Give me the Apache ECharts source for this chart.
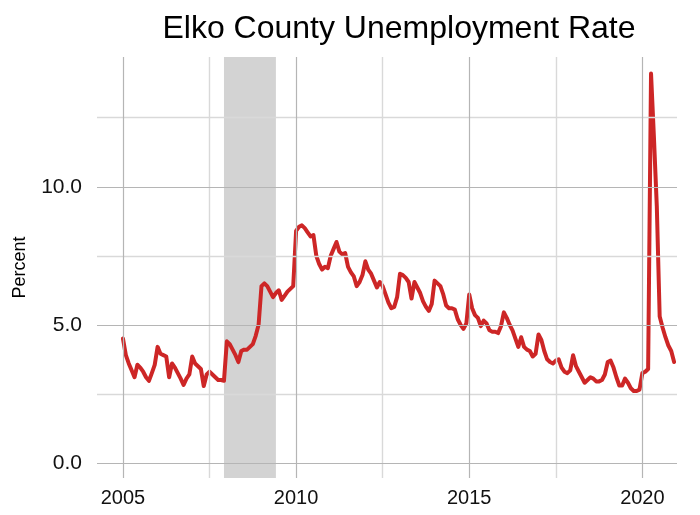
<!DOCTYPE html>
<html>
<head>
<meta charset="utf-8">
<title>Elko County Unemployment Rate</title>
<script src="https://cdn.jsdelivr.net/npm/echarts@6/dist/echarts.min.js"></script>
<style>
  html, body { margin: 0; padding: 0; background: #fff; }
  #chart { width: 700px; height: 515px; }
</style>
</head>
<body>
<div id="chart"></div>
<script>
const WIDTH = 700;
const HEIGHT = 515;

const START_YEAR = 2005;

// monthly unemployment rate, Jan 2005 .. Dec 2020 (one row per year)
const rates2005 = [4.5, 3.9, 3.6, 3.35, 3.1, 3.55, 3.45, 3.3, 3.1, 2.97, 3.25, 3.55];
const rates2006 = [4.2, 3.95, 3.9, 3.85, 3.1, 3.6, 3.45, 3.25, 3.05, 2.82, 3.05, 3.2];
const rates2007 = [3.85, 3.6, 3.5, 3.4, 2.78, 3.2, 3.3, 3.2, 3.1, 3.0, 3.0, 2.97];
const rates2008 = [4.4, 4.3, 4.1, 3.9, 3.65, 4.05, 4.1, 4.1, 4.2, 4.3, 4.6, 5.0];
const rates2009 = [6.4, 6.5, 6.4, 6.2, 6.0, 6.15, 6.25, 5.9, 6.05, 6.2, 6.3, 6.4];
const rates2010 = [8.4, 8.55, 8.6, 8.5, 8.35, 8.2, 8.25, 7.5, 7.2, 7.0, 7.1, 7.05];
const rates2011 = [7.5, 7.75, 8.0, 7.65, 7.55, 7.6, 7.1, 6.9, 6.75, 6.4, 6.55, 6.8];
const rates2012 = [7.3, 7.0, 6.85, 6.6, 6.35, 6.55, 6.4, 6.1, 5.8, 5.6, 5.65, 6.0];
const rates2013 = [6.85, 6.8, 6.7, 6.55, 5.95, 6.55, 6.35, 6.15, 5.85, 5.65, 5.5, 5.75];
const rates2014 = [6.6, 6.5, 6.4, 6.1, 5.7, 5.6, 5.6, 5.55, 5.2, 5.0, 4.85, 5.05];
const rates2015 = [6.1, 5.6, 5.35, 5.25, 4.95, 5.15, 5.05, 4.8, 4.75, 4.75, 4.7, 4.95];
const rates2016 = [5.45, 5.25, 5.0, 4.8, 4.5, 4.2, 4.55, 4.2, 4.1, 4.05, 3.85, 3.95];
const rates2017 = [4.65, 4.45, 4.05, 3.75, 3.65, 3.6, 3.7, 3.75, 3.45, 3.3, 3.25, 3.35];
const rates2018 = [3.9, 3.5, 3.3, 3.1, 2.9, 3.0, 3.1, 3.05, 2.95, 2.95, 3.0, 3.2];
const rates2019 = [3.65, 3.7, 3.45, 3.1, 2.8, 2.8, 3.05, 2.9, 2.7, 2.6, 2.6, 2.65];
const rates2020 = [3.25, 3.3, 3.4, 14.1, 11.8, 9.3, 5.3, 4.9, 4.55, 4.25, 4.05, 3.65];

const yearlyRates = [
  rates2005, rates2006, rates2007, rates2008, rates2009, rates2010, rates2011, rates2012,
  rates2013, rates2014, rates2015, rates2016, rates2017, rates2018, rates2019, rates2020
];

// Great Recession, Dec 2007 .. Jun 2009
const recession = [2007 + 11 / 12, 2009 + 5 / 12];

const xMajorTicks = [2005, 2010, 2015, 2020];
const xMinorTicks = [2007.5, 2012.5, 2017.5];
const yMajorTicks = [0, 5, 10];
const yMinorTicks = [2.5, 7.5, 12.5];

const LINE_COLOR = "#cd2626";
const MAJOR_GRID = "#b5b5b5";
const MINOR_GRID = "#d9d9d9";

const points = [];
yearlyRates.forEach((months, y) => {
  months.forEach((v, m) => points.push([START_YEAR + y + m / 12, v]));
});

function gridLines(axis, values, color, width) {
  return values.map((v) => ({
    [axis]: v,
    lineStyle: { color, width, type: "solid" }
  }));
}

const chart = echarts.init(document.getElementById("chart"), null, {
  renderer: "canvas",
  width: WIDTH,
  height: HEIGHT
});

chart.setOption({
  animation: false,
  backgroundColor: "#ffffff",
  textStyle: { fontFamily: "Liberation Sans, Arial, sans-serif" },
  title: {
    text: "Elko County Unemployment Rate",
    left: 394,
    top: 8,
    textAlign: "center",
    textStyle: { fontSize: 32, fontWeight: "normal", color: "#000" }
  },
  grid: {
    left: 97,
    right: 23,
    top: 57,
    bottom: 37,
    containLabel: false,
    outerBoundsMode: "none"
  },
  xAxis: {
    type: "value",
    min: 2004.25,
    max: 2021.0,
    axisLine: { show: false },
    axisTick: { show: false },
    splitLine: { show: false },
    axisLabel: {
      customValues: xMajorTicks,
      formatter: (v) => String(v),
      fontSize: 20,
      color: "#111",
      margin: 10
    }
  },
  yAxis: {
    type: "value",
    min: -0.55,
    max: 14.7,
    name: "Percent",
    nameLocation: "middle",
    nameRotate: 90,
    nameGap: 68,
    nameTextStyle: { fontSize: 18, color: "#000" },
    axisLine: { show: false },
    axisTick: { show: false },
    splitLine: { show: false },
    axisLabel: {
      customValues: yMajorTicks,
      formatter: (v) => v.toFixed(1),
      fontSize: 21,
      color: "#111",
      margin: 15
    }
  },
  series: [
    {
      // recession shading
      type: "line",
      data: [],
      z: 1,
      silent: true,
      markArea: {
        silent: true,
        itemStyle: { color: "#d3d3d3" },
        data: [[{ xAxis: recession[0] }, { xAxis: recession[1] }]]
      }
    },
    {
      // panel grid
      type: "line",
      data: [],
      z: 2,
      silent: true,
      markLine: {
        silent: true,
        symbol: "none",
        label: { show: false },
        data: [
          ...gridLines("yAxis", yMinorTicks, MINOR_GRID, 1.4),
          ...gridLines("xAxis", xMinorTicks, MINOR_GRID, 1.4),
          ...gridLines("yAxis", yMajorTicks, MAJOR_GRID, 1.2),
          ...gridLines("xAxis", xMajorTicks, MAJOR_GRID, 1.2)
        ]
      }
    },
    {
      name: "Unemployment rate",
      type: "line",
      data: points,
      z: 3,
      showSymbol: false,
      symbol: "none",
      lineStyle: { color: LINE_COLOR, width: 4, join: "round", cap: "round" }
    }
  ]
});
</script>
</body>
</html>
